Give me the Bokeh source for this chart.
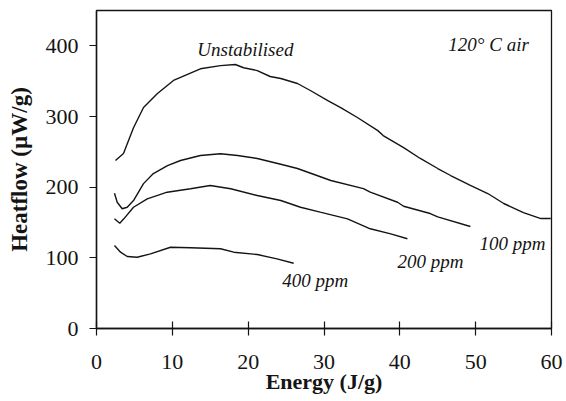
from bokeh.plotting import figure
from bokeh.models import Range1d, FixedTicker, Label
from bokeh.embed import file_html
from bokeh.resources import INLINE

# ---- data ----
unstab_x = [2.5, 3.56, 4.88, 6.2, 8.04, 10.15, 13.7, 16.35, 18.3, 19.4, 21.2, 22.9, 24.3,
            26.5, 28.2, 30.5, 32.2, 34.4, 37.1, 37.8, 40.5, 42.7, 45.0, 46.7, 49.3, 51.6,
            53.7, 56.3, 58.6, 59.9]
unstab_y = [237.7, 247.6, 284, 312.7, 332.5, 351, 367.5, 372, 373.6, 369, 365, 356.6, 353.8,
            346.7, 336.8, 322.6, 312.7, 298.6, 280, 273, 256, 240.6, 226.4, 216.5, 202.4, 191,
            176.9, 164, 155.6, 155.6]

ppm100_x = [2.37, 2.73, 3.39, 4.05, 4.88, 6.2, 7.5, 9.36, 11.08, 13.7, 16.35, 18.6, 21.2,
            24.3, 26.5, 30.9, 35.2, 36.1, 39.7, 40.5, 44.0, 45.0, 49.3]
ppm100_y = [191.5, 178.7, 169.4, 171.6, 181, 205, 219.3, 230.6, 237.7, 244.8, 247.2, 244.8, 240.6,
            232.5, 226.4, 209.4, 198, 193, 178.7, 173, 162.7, 158, 144.3]

ppm200_x = [2.37, 3.07, 3.6, 4.88, 6.69, 9.32, 12.4, 15.0, 17.7, 21.2, 24.3, 26.9, 29.5,
            33.1, 36.1, 38.8, 41.0]
ppm200_y = [155.2, 149, 155.2, 171.6, 183.5, 192.9, 197.7, 202.4, 197.7, 188.2, 181.1, 171.6, 164.6,
            155.2, 141.1, 134, 127]

ppm400_x = [2.37, 3.17, 4.05, 5.37, 7.12, 9.76, 12.4, 16.35, 18.1, 21.2, 23.8, 26.0]
ppm400_y = [117.4, 108, 101.9, 100.9, 105.7, 115, 114.2, 112.8, 108, 104.7, 98.6, 92.4]

x_ticks = [0, 10, 20, 30, 40, 50, 60]
y_ticks = [0, 100, 200, 300, 400]

FONT = "Liberation Serif"
INK = "#141414"

p = figure(width=566, height=400, output_backend="svg", toolbar_location=None,
           x_range=Range1d(0, 60), y_range=Range1d(0, 450),
           min_border_left=96, min_border_right=15, min_border_top=10, min_border_bottom=72)
p.xgrid.visible = False
p.ygrid.visible = False
p.outline_line_color = INK
p.outline_line_width = 1.3
p.background_fill_color = "white"
p.border_fill_color = "white"

for ax in (p.xaxis[0], p.yaxis[0]):
    ax.axis_line_color = INK
    ax.axis_line_width = 1.4
    ax.major_tick_line_color = INK
    ax.major_tick_line_width = 1.2
    ax.minor_tick_line_color = None
    ax.major_label_text_font = FONT
    ax.major_label_text_font_size = "22px"
    ax.major_label_text_color = INK

p.xaxis.ticker = FixedTicker(ticks=x_ticks)
p.yaxis.ticker = FixedTicker(ticks=y_ticks)
p.xaxis.major_tick_in = 7
p.xaxis.major_tick_out = 7
p.xaxis.major_label_standoff = 19
p.yaxis.major_tick_in = 0
p.yaxis.major_tick_out = 7
p.yaxis.major_label_standoff = 11

p.yaxis.axis_label = "Heatflow (\u00b5W/g)"
p.yaxis.axis_label_text_font = FONT
p.yaxis.axis_label_text_font_style = "bold"
p.yaxis.axis_label_text_font_size = "23px"
p.yaxis.axis_label_text_color = INK
p.yaxis.axis_label_standoff = 11

p.xaxis.axis_label = "Energy (J/g)"
p.xaxis.axis_label_text_font = FONT
p.xaxis.axis_label_text_font_style = "bold"
p.xaxis.axis_label_text_font_size = "22px"
p.xaxis.axis_label_text_color = INK
p.xaxis.axis_label_standoff = -3

for xs, ys in ((unstab_x, unstab_y), (ppm100_x, ppm100_y), (ppm200_x, ppm200_y), (ppm400_x, ppm400_y)):
    p.line(xs, ys, line_color=INK, line_width=1.4)

def note(x, y, text, size="19px", style="italic", align="left"):
    p.add_layout(Label(x=x, y=y, text=text, text_font=FONT, text_font_style=style,
                       text_font_size=size, text_color=INK, text_align=align,
                       text_baseline="alphabetic"))

note(13.3, 394.8, "Unstabilised")
note(46.4, 401.9, "120\u00b0 C  air")
note(50.5, 120.3, "100 ppm")
note(39.7, 94.8, "200 ppm")
note(24.5, 67.9, "400 ppm")

open("out.html", "w").write(file_html(p, INLINE))
